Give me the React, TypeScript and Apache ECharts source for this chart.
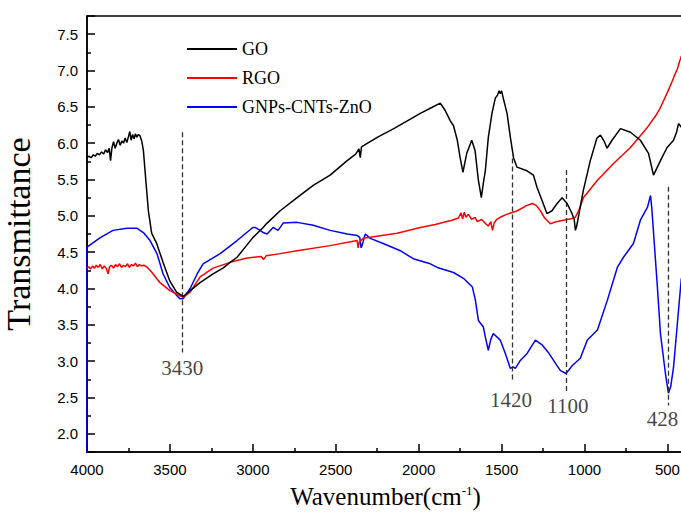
import React, { useEffect, useRef } from "react";
import * as echarts from "echarts";

// ---- Data (wavenumber cm^-1, transmittance) ----
const goData: number[][] = [
  [4000, 5.8], [3990, 5.82], [3975, 5.8], [3962, 5.84], [3950, 5.82], [3938, 5.86], [3925, 5.84], [3912, 5.88],
  [3900, 5.85], [3888, 5.91], [3876, 5.87], [3866, 5.93], [3858, 5.76], [3850, 5.93], [3840, 6.02], [3830, 5.93],
  [3820, 6.0], [3810, 6.05], [3800, 5.97], [3790, 6.03], [3780, 6.0], [3770, 6.07], [3760, 6.01], [3750, 6.09],
  [3742, 6.16], [3734, 6.04], [3725, 6.12], [3716, 6.06], [3708, 6.13], [3700, 6.08], [3690, 6.12], [3680, 6.1],
  [3670, 6.03], [3660, 5.9], [3645, 5.48], [3630, 5.07], [3610, 4.76], [3580, 4.62], [3540, 4.35], [3500, 4.1],
  [3460, 3.95], [3420, 3.89], [3378, 3.97], [3318, 4.08], [3240, 4.2], [3180, 4.28], [3137, 4.36], [3095, 4.43],
  [3000, 4.7], [2938, 4.84], [2914, 4.9], [2835, 5.07], [2733, 5.25], [2636, 5.42], [2534, 5.56], [2431, 5.76],
  [2380, 5.85], [2360, 5.92], [2352, 5.8], [2345, 5.95], [2330, 5.97], [2250, 6.08], [2150, 6.2], [2050, 6.33],
  [1990, 6.41], [1930, 6.48], [1870, 6.55], [1840, 6.45], [1810, 6.31], [1790, 6.24], [1767, 6.04], [1750, 5.8],
  [1733, 5.6], [1720, 5.75], [1710, 5.86], [1680, 6.04], [1660, 5.9], [1640, 5.49], [1622, 5.25], [1610, 5.45],
  [1598, 5.62], [1580, 6.08], [1558, 6.41], [1538, 6.62], [1525, 6.66], [1515, 6.72], [1508, 6.68], [1500, 6.72],
  [1490, 6.62], [1467, 6.41], [1447, 6.08], [1428, 5.8], [1407, 5.67], [1347, 5.62], [1308, 5.56], [1286, 5.39],
  [1256, 5.21], [1226, 5.03], [1196, 5.07], [1165, 5.17], [1135, 5.25], [1105, 5.17], [1075, 5.03], [1062, 4.95],
  [1055, 4.8], [1048, 4.85], [1037, 4.98], [1007, 5.35], [965, 5.76], [925, 6.07], [904, 6.11], [880, 6.02],
  [864, 5.93], [834, 6.04], [783, 6.2], [723, 6.15], [663, 6.04], [614, 5.86], [584, 5.56], [542, 5.76],
  [502, 5.94], [463, 6.04], [445, 6.15], [433, 6.27], [416, 6.22],
];

const rgoData: number[][] = [
  [4000, 4.28], [3990, 4.3], [3978, 4.27], [3966, 4.31], [3955, 4.28], [3944, 4.32], [3932, 4.29], [3920, 4.33],
  [3908, 4.27], [3896, 4.31], [3884, 4.28], [3872, 4.2], [3864, 4.3], [3852, 4.32], [3840, 4.28], [3828, 4.33],
  [3816, 4.3], [3804, 4.34], [3792, 4.29], [3780, 4.32], [3768, 4.3], [3756, 4.34], [3744, 4.29], [3732, 4.33],
  [3720, 4.31], [3708, 4.35], [3696, 4.3], [3684, 4.33], [3672, 4.31], [3660, 4.32], [3640, 4.3], [3608, 4.22],
  [3560, 4.08], [3500, 3.97], [3440, 3.9], [3420, 3.88], [3378, 3.95], [3318, 4.16], [3240, 4.28], [3137, 4.36],
  [3035, 4.42], [2950, 4.44], [2935, 4.4], [2920, 4.45], [2835, 4.48], [2733, 4.52], [2534, 4.59], [2371, 4.66],
  [2365, 4.56], [2358, 4.64], [2334, 4.69], [2130, 4.76], [1990, 4.84], [1900, 4.88], [1800, 4.94], [1760, 4.97],
  [1745, 5.04], [1735, 4.96], [1725, 5.05], [1715, 4.98], [1700, 5.02], [1680, 4.95], [1660, 4.98], [1647, 4.92],
  [1620, 4.95], [1600, 4.9], [1580, 4.86], [1565, 4.92], [1555, 4.8], [1545, 4.9], [1530, 4.95], [1508, 4.98],
  [1470, 5.02], [1405, 5.07], [1350, 5.14], [1314, 5.17], [1290, 5.14], [1266, 5.07], [1240, 4.97], [1206, 4.89],
  [1170, 4.92], [1127, 4.94], [1080, 4.96], [1055, 4.98], [1030, 5.1], [1007, 5.25], [922, 5.49], [825, 5.72],
  [723, 5.94], [620, 6.22], [570, 6.38], [542, 6.49], [494, 6.73], [470, 6.86], [452, 6.96], [440, 7.02],
  [430, 7.1], [416, 7.2],
];

const gnpData: number[][] = [
  [4000, 1.6], [4000, 4.57], [3920, 4.7], [3843, 4.8], [3760, 4.83], [3700, 4.83], [3660, 4.77], [3620, 4.66],
  [3578, 4.48], [3541, 4.2], [3500, 4.01], [3457, 3.9], [3440, 3.86], [3420, 3.86], [3378, 4.0], [3336, 4.2],
  [3300, 4.34], [3197, 4.48], [3095, 4.66], [3000, 4.84], [2986, 4.84], [2956, 4.8], [2938, 4.77], [2914, 4.75],
  [2878, 4.84], [2848, 4.8], [2817, 4.9], [2733, 4.91], [2636, 4.87], [2534, 4.8], [2431, 4.75], [2371, 4.73],
  [2355, 4.7], [2347, 4.56], [2340, 4.6], [2322, 4.75], [2292, 4.69], [2214, 4.62], [2153, 4.56], [2111, 4.52],
  [2033, 4.41], [1930, 4.34], [1888, 4.29], [1790, 4.22], [1730, 4.14], [1676, 4.02], [1658, 3.84], [1640, 3.56],
  [1610, 3.47], [1595, 3.3], [1580, 3.15], [1565, 3.3], [1550, 3.38], [1508, 3.29], [1478, 3.11], [1447, 2.9],
  [1430, 2.92], [1417, 2.9], [1387, 3.01], [1345, 3.11], [1296, 3.29], [1254, 3.22], [1218, 3.12], [1175, 2.97],
  [1145, 2.87], [1111, 2.83], [1073, 2.94], [1025, 3.04], [983, 3.29], [922, 3.43], [862, 3.84], [802, 4.29],
  [765, 4.43], [705, 4.62], [663, 4.94], [620, 5.12], [602, 5.28], [594, 5.1], [586, 4.84], [562, 4.07],
  [542, 3.38], [512, 2.83], [494, 2.56], [480, 2.65], [463, 2.92], [433, 3.7], [416, 4.14],
];

const seriesNames = ["GO", "RGO", "GNPs-CNTs-ZnO"];
const seriesColors = ["#000000", "#ff0000", "#0000ff"];

// annotation dashed lines: x position, top, bottom
const annotX = [3423, 1437, 1111, 492];
const annotTop = [6.15, 5.79, 5.63, 5.4];
const annotBottom = [3.12, 2.71, 2.58, 2.39];
// annotation labels
const annotText = ["3430", "1420", "1100", "428"];
const annotLabelX = [3425, 1443, 1100, 530];
const annotLabelY = [2.9, 2.46, 2.38, 2.2];

const serif = "'Liberation Serif', 'Times New Roman', serif";
const sans = "'Liberation Sans', Arial, sans-serif";

export default function App() {
  const ref = useRef<HTMLDivElement>(null);
  useEffect(() => {
    if (!ref.current) return;
    const chart = echarts.init(ref.current, null, { renderer: "svg" });
    const datasets = [goData, rgoData, gnpData];
    const lineSeries: any[] = seriesNames.map((name, i) => ({
      name,
      type: "line",
      data: datasets[i],
      showSymbol: false,
      symbol: "none",
      lineStyle: { color: seriesColors[i], width: 1.5 },
      itemStyle: { color: seriesColors[i] },
      z: 3 - i + 2,
      silent: true,
    }));
    lineSeries[0].markLine = {
      silent: true,
      symbol: ["none", "none"],
      label: { show: false },
      lineStyle: { type: [5, 3], color: "#333", width: 1.3 },
      emphasis: { disabled: true },
      data: annotX.map((x, i) => [
        { coord: [x, annotTop[i]] },
        { coord: [x, annotBottom[i]] },
      ]),
    };
    const labelSeries = {
      name: "annot",
      type: "scatter",
      symbolSize: 0,
      silent: true,
      data: annotText.map((t, i) => ({ name: t, value: [annotLabelX[i], annotLabelY[i]] })),
      label: {
        show: true,
        position: "inside",
        formatter: "{b}",
        fontFamily: serif,
        fontSize: 21,
        color: "#111",
      },
    };
    chart.setOption({
      animation: false,
      backgroundColor: "#fff",
      grid: {
        left: 87,
        right: -3,
        top: 16,
        bottom: 61,
        show: true,
        borderColor: "#000",
        borderWidth: 1.5,
        containLabel: false,
        outerBoundsMode: "none",
      },
      legend: {
        data: seriesNames,
        orient: "vertical",
        left: 182,
        top: 35,
        itemWidth: 50,
        itemHeight: 2,
        itemGap: 11,
        icon: "rect",
        textStyle: { fontFamily: serif, fontSize: 18, color: "#000" },
      },
      xAxis: {
        type: "value",
        inverse: true,
        min: 400,
        max: 4000,
        splitNumber: 7,
        name: "{a|Wavenumber(cm}{b|-1}{a|)}",
        nameLocation: "middle",
        nameGap: 32,
        nameTextStyle: {
          rich: {
            a: { fontFamily: serif, fontSize: 25, color: "#000" },
            b: { fontFamily: serif, fontSize: 13, color: "#000", verticalAlign: "top", padding: [0, 0, 6, 0] },
          },
        },
        axisLine: { lineStyle: { color: "#000", width: 1.5 } },
        axisTick: { inside: true, length: 8, lineStyle: { color: "#000", width: 1.5 } },
        minorTick: { show: true, splitNumber: 2, length: 4, lineStyle: { color: "#000", width: 1.5 } },
        splitLine: { show: false },
        axisLabel: {
          fontFamily: sans,
          fontSize: 15,
          color: "#000",
          margin: 10,
          formatter: (v: number) => (v % 500 === 0 ? String(v) : ""),
        },
      },
      yAxis: {
        type: "value",
        min: 1.75,
        max: 7.75,
        splitNumber: 12,
        name: "Transmittance",
        nameLocation: "middle",
        nameGap: 52,
        nameTextStyle: { fontFamily: serif, fontSize: 34, color: "#000" },
        axisLine: { show: true, lineStyle: { color: "#000", width: 1.5 } },
        axisTick: { inside: true, length: 8, lineStyle: { color: "#000", width: 1.5 } },
        minorTick: { show: true, splitNumber: 2, length: 4, lineStyle: { color: "#000", width: 1.5 } },
        splitLine: { show: false },
        axisLabel: {
          fontFamily: sans,
          fontSize: 15,
          color: "#000",
          margin: 9,
          formatter: (v: number) =>
            Math.abs(v * 2 - Math.round(v * 2)) < 1e-6 ? v.toFixed(1) : "",
        },
      },
      series: [...lineSeries, labelSeries],
    });
    return () => chart.dispose();
  }, []);
  return (
    <div
      ref={ref}
      style={{ position: "absolute", left: 0, top: 0, width: 681, height: 513 }}
    />
  );
}
